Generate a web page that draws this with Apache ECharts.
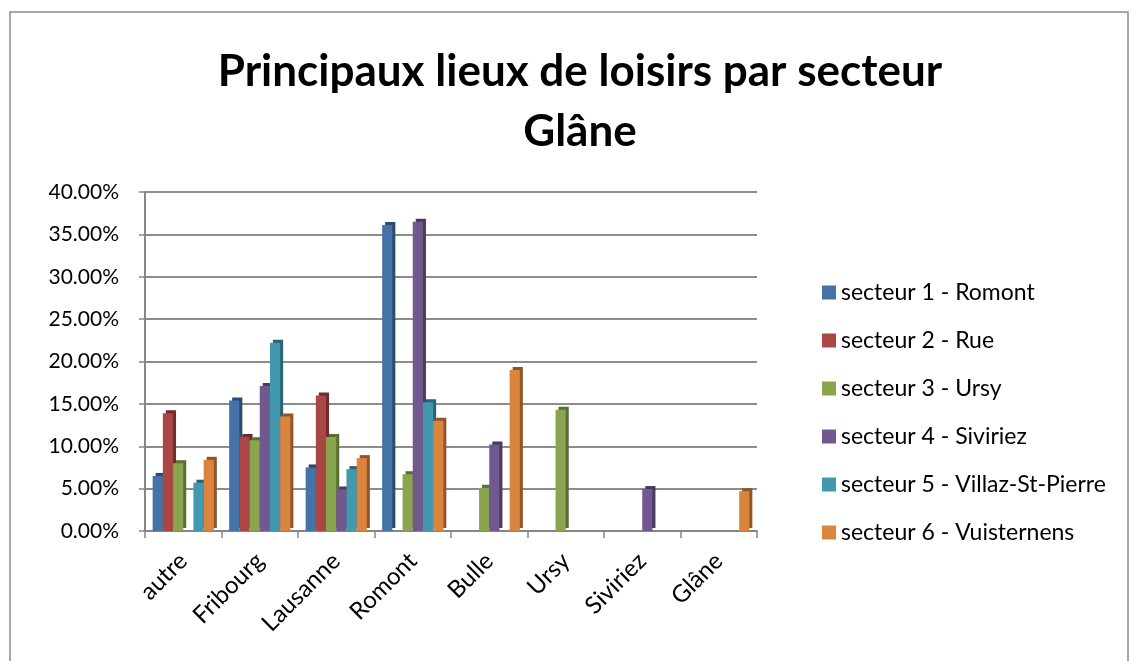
<!DOCTYPE html>
<html>
<head>
<meta charset="utf-8">
<script src="https://cdn.jsdelivr.net/npm/echarts@6/dist/echarts.min.js"></script>
<style>
  html, body { margin: 0; padding: 0; background: #fff; }
  #chart { width: 1131px; height: 661px; }
</style>
</head>
<body>
<div id="chart"></div>
<script>
// lieux (axe des catégories)
const lieux = ['autre', 'Fribourg', 'Lausanne', 'Romont', 'Bulle', 'Ursy', 'Siviriez', 'Glâne'];

// parts en % par secteur
const secteur1 = [6.5, 15.4, 7.5, 36.1, 0, 0, 0, 0];
const secteur2 = [13.9, 11.1, 16.0, 0, 0, 0, 0, 0];
const secteur3 = [8.0, 10.7, 11.1, 6.7, 5.1, 14.3, 0, 0];
const secteur4 = [0, 17.1, 4.9, 36.5, 10.2, 0, 4.95, 0];
const secteur5 = [5.7, 22.2, 7.3, 15.2, 0, 0, 0, 0];
const secteur6 = [8.4, 13.5, 8.6, 13.0, 19.0, 0, 0, 4.7];

const nomsSecteurs = [
  'secteur 1 - Romont',
  'secteur 2 - Rue',
  'secteur 3 - Ursy',
  'secteur 4 - Siviriez',
  'secteur 5 - Villaz-St-Pierre',
  'secteur 6 - Vuisternens'
];

let myChart = echarts.init(document.getElementById('chart'));

const couleurs = ['#4573A7', '#AA4643', '#89A54E', '#71588F', '#4198AF', '#DB843D'];
const ombres = ['#2C4A6E', '#6E2D2B', '#5A6D33', '#4A3A5E', '#2A6372', '#8F5628'];
const valeurs = [secteur1, secteur2, secteur3, secteur4, secteur5, secteur6];

const police = 'Lato, "Open Sans", sans-serif';

let option = {
  animation: false,
  title: {
    text: 'Principaux lieux de loisirs par secteur\nGlâne',
    left: 575,
    textAlign: 'center',
    top: 37,
    textStyle: {
      fontFamily: police,
      fontSize: 44,
      fontWeight: 'bold',
      color: '#000',
      lineHeight: 60
    }
  },
  graphic: [{
    type: 'rect',
    shape: { x: 10, y: 12, width: 1118, height: 660 },
    style: { fill: 'none', stroke: '#8a8a8a', lineWidth: 1.5 },
    silent: true
  }],
  legend: {
    orient: 'vertical',
    left: 817,
    top: 276,
    itemWidth: 14,
    itemHeight: 14,
    itemGap: 25,
    icon: 'rect',
    textStyle: { fontFamily: police, fontSize: 23, color: '#000' },
    data: nomsSecteurs
  },
  grid: {
    left: 145,
    right: 1131 - 757,
    top: 192,
    bottom: 661 - 531
  },
  xAxis: {
    type: 'category',
    data: lieux,
    axisLine: { lineStyle: { color: '#868686', width: 2 } },
    axisTick: { show: true, length: 7, lineStyle: { color: '#868686', width: 1.5 } },
    axisLabel: {
      rotate: 45,
      fontFamily: police,
      fontSize: 24,
      color: '#000',
      margin: 26
    }
  },
  yAxis: {
    type: 'value',
    min: 0,
    max: 40,
    interval: 5,
    axisLine: { show: true, lineStyle: { color: '#868686', width: 2 } },
    axisTick: { show: true, length: 6, lineStyle: { color: '#868686', width: 1.5 } },
    splitLine: { lineStyle: { color: '#8c8c8c', width: 2 } },
    axisLabel: {
      formatter: v => v.toFixed(2) + '%',
      fontFamily: police,
      fontSize: 21,
      color: '#000',
      margin: 26
    }
  },
  series: valeurs.map((v, i) => ({
    name: nomsSecteurs[i],
    type: 'bar',
    data: v,
    barGap: '0%',
    barCategoryGap: '20%',
    itemStyle: {
      color: couleurs[i],
      shadowColor: ombres[i],
      shadowBlur: 0,
      shadowOffsetX: 3,
      shadowOffsetY: -3
    }
  }))
};

myChart.setOption(option);
</script>
</body>
</html>
